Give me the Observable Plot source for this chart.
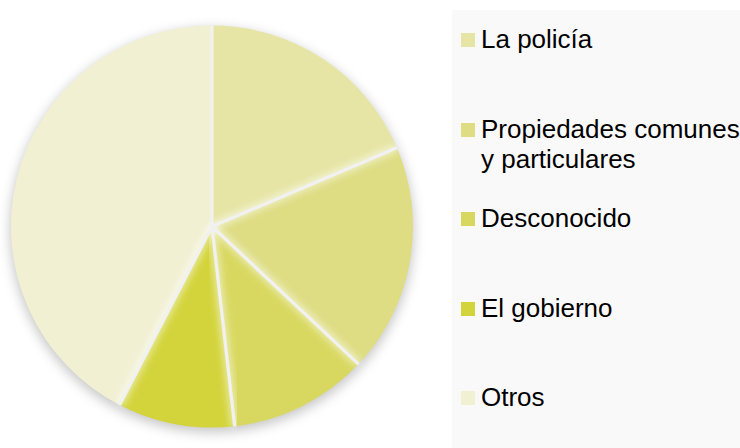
<!DOCTYPE html>
<html><head><meta charset="utf-8">
<script src="https://cdn.jsdelivr.net/npm/d3@7"></script>
<script src="https://cdn.jsdelivr.net/npm/@observablehq/plot@0.6"></script>
<style>
html,body{margin:0;padding:0;background:#fff;overflow:hidden;}
#wrap{position:relative;width:740px;height:448px;overflow:hidden;font-family:"Liberation Sans",Arial,sans-serif;}
#wrap svg{position:absolute;left:0;top:0;}
#legend{position:absolute;left:452px;top:10px;width:288px;height:438px;background:#f9f9f9;}
.sw{position:absolute;width:14px;height:14px;}
.lb{position:absolute;font-size:26px;line-height:30px;white-space:pre;color:#000;}
</style></head>
<body><div id="wrap"><div id="legend"></div></div>
<script>
const categories = ["La policía", "Propiedades comunes y particulares", "Desconocido", "El gobierno", "Otros"];
const legendLabels = ["La policía", "Propiedades comunes\ny particulares", "Desconocido", "El gobierno", "Otros"];
const values = [18.6, 18.4, 11.2, 9.4, 42.4];
const colors = ["#e6e5a5", "#dedd84", "#d8d861", "#d3d43c", "#f1f0d3"];

const data = categories.map((c, i) => ({category: c, value: values[i]}));
const arcs = d3.pie().value(d => d.value).sort(null)(data);

function pieMark(index, scales, vals, dims, context) {
  const cx = scales.x(0), cy = scales.y(0), r = scales.x(1) - scales.x(0);
  const g = d3.create("svg:g");
  const defs = g.append("defs");
  defs.append("filter").attr("id", "shadow").attr("x", "-20%").attr("y", "-20%").attr("width", "140%").attr("height", "140%")
    .append("feGaussianBlur").attr("stdDeviation", 6);
  defs.append("filter").attr("id", "glow").append("feGaussianBlur").attr("stdDeviation", 3);
  defs.append("clipPath").attr("id", "pieclip").append("circle").attr("cx", cx).attr("cy", cy).attr("r", r);
  g.append("circle").attr("cx", cx).attr("cy", cy + 4).attr("r", r + 1)
    .attr("fill", "#000").attr("fill-opacity", 0.22).attr("filter", "url(#shadow)");
  const arc = d3.arc().innerRadius(0).outerRadius(r);
  const pg = g.append("g").attr("transform", `translate(${cx},${cy})`);
  pg.selectAll("path").data(arcs).join("path")
    .attr("d", arc).attr("fill", d => scales.color(d.data.category));
  const lines = pg.append("g").attr("clip-path", null);
  const lineData = arcs.map(a => a.startAngle);
  lines.selectAll("line.glow").data(lineData).join("line").attr("class", "glow")
    .attr("x1", 0).attr("y1", 0)
    .attr("x2", a => r * Math.sin(a)).attr("y2", a => -r * Math.cos(a))
    .attr("stroke", "#fff").attr("stroke-width", 9).attr("stroke-opacity", 0.45).attr("filter", "url(#glow)");
  lines.selectAll("line.sep").data(lineData).join("line").attr("class", "sep")
    .attr("x1", 0).attr("y1", 0)
    .attr("x2", a => r * Math.sin(a)).attr("y2", a => -r * Math.cos(a))
    .attr("stroke", "#f1f1f1").attr("stroke-width", 3.2);
  return g.node();
}

const chart = Plot.plot({
  width: 740, height: 448,
  marginLeft: 11, marginRight: 327, marginTop: 26, marginBottom: 21,
  x: {domain: [-1, 1], axis: null},
  y: {domain: [-1, 1], axis: null},
  color: {domain: categories, range: colors},
  style: {background: "transparent"},
  marks: [
    Plot.dot(data, {x: () => 0, y: () => 0, fill: "category", r: 0}),
    pieMark
  ]
});
const wrap = document.getElementById("wrap");
wrap.insertBefore(chart, wrap.firstChild);

const legend = document.getElementById("legend");
legendLabels.forEach((lab, i) => {
  const sw = document.createElement("div");
  sw.className = "sw";
  sw.style.left = "9px";
  sw.style.top = (23 + i * 89.5) + "px";
  sw.style.background = colors[i];
  legend.appendChild(sw);
  const t = document.createElement("div");
  t.className = "lb";
  t.style.left = "29px";
  t.style.top = (14 + i * 89.5) + "px";
  t.textContent = lab;
  legend.appendChild(t);
});
</script></body></html>
